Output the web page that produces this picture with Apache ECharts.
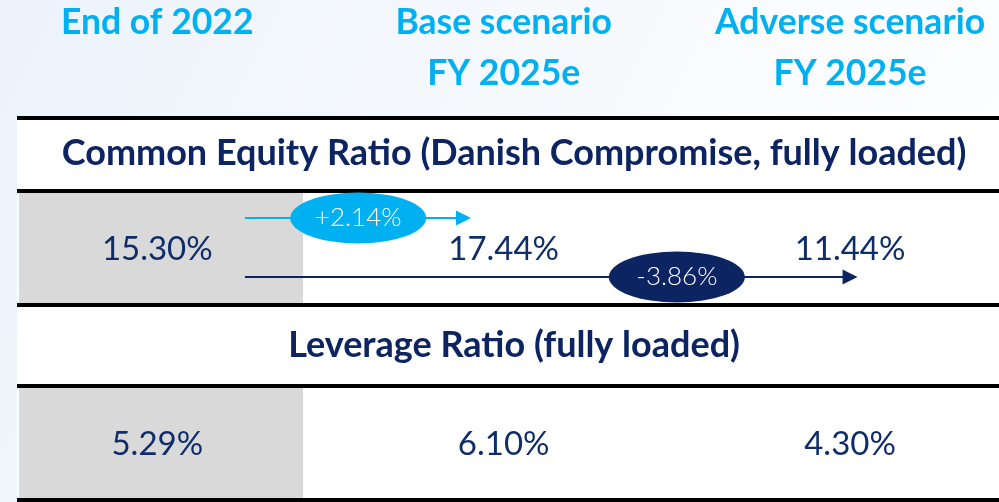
<!DOCTYPE html>
<html>
<head>
<meta charset="utf-8">
<title>Capital ratios</title>
<script src="https://cdn.jsdelivr.net/npm/echarts@6.0.0/dist/echarts.min.js"></script>
<style>
  html, body { margin: 0; padding: 0; }
  #chart { width: 999px; height: 502px; }
</style>
</head>
<body>
<div id="chart"></div>
<script>
// data
const columns = ['End of 2022', 'Base scenario\nFY 2025e', 'Adverse scenario\nFY 2025e']
const sections = ['Common Equity Ratio (Danish Compromise, fully loaded)', 'Leverage Ratio (fully loaded)']
const cetRatio = [15.30, 17.44, 11.44]
const leverageRatio = [5.29, 6.10, 4.30]
// change from end of 2022 to base / adverse
const cetChange = [2.14, -3.86]

// layout (x in column units, y axis runs 1:1 with pixels)
const X_MIN = -0.405
const X_MAX = 2.43
const rules = [118, 191, 305, 386, 500]
const headerY = 23
const headerLine = 51
const titleX = 1.03
const titleY = [153, 345]
const valueY = [249, 444]
const greyEdge = 0.421
const arrowStart = 0.253
const arrowEnd = [0.884, 2.0]
const arrowY = [218, 277]
const bubbleX = [0.58, 1.5]

const NAVY = '#0c2461'
const BLUE = '#00b0f0'

const chart = echarts.init(document.getElementById('chart'))

const pct = (v) => v.toFixed(2) + '%'

// invisible point, only there to carry a label
const hidden = { color: 'transparent', opacity: 1 }

const option = {
  backgroundColor: new echarts.graphic.LinearGradient(0, 0, 1, 1, [
    { offset: 0, color: '#ecf3fb' },
    { offset: 0.5, color: '#f7fafd' },
    { offset: 1, color: '#ffffff' }
  ]),
  animation: false,
  grid: { left: 17, right: 0, top: 0, bottom: 0 },
  xAxis: { type: 'value', min: X_MIN, max: X_MAX, show: false },
  yAxis: { type: 'value', min: 0, max: 502, inverse: true, show: false },
  series: [
    // table body, grey column and horizontal rules
    {
      type: 'scatter',
      silent: true,
      data: [],
      markArea: {
        silent: true,
        data: [
          [{ xAxis: X_MIN, yAxis: rules[0], itemStyle: { color: '#ffffff', opacity: 1 } }, { xAxis: X_MAX, yAxis: rules[4] }],
          [{ xAxis: -0.399, yAxis: rules[1] + 2, itemStyle: { color: '#d9d9d9', opacity: 1 } }, { xAxis: greyEdge, yAxis: rules[2] - 2 }],
          [{ xAxis: -0.399, yAxis: rules[3] + 2, itemStyle: { color: '#d9d9d9', opacity: 1 } }, { xAxis: greyEdge, yAxis: rules[4] - 2 }]
        ]
      },
      markLine: {
        silent: true,
        symbol: 'none',
        label: { show: false },
        lineStyle: { color: '#000', width: 4, type: 'solid', opacity: 1 },
        data: rules.map((r) => ({ yAxis: r }))
      }
    },
    // column headers
    {
      type: 'scatter',
      silent: true,
      symbolSize: 1,
      itemStyle: hidden,
      data: columns.map((c, i) => ({
        name: c,
        value: [i, headerY + (c.split('\n').length - 1) * headerLine / 2]
      })),
      label: {
        show: true,
        position: 'inside',
        formatter: '{b}',
        fontFamily: 'Lato',
        fontWeight: 'bold',
        fontSize: 35.5,
        lineHeight: headerLine,
        color: BLUE
      }
    },
    // section titles
    {
      type: 'scatter',
      silent: true,
      symbolSize: 1,
      itemStyle: hidden,
      data: sections.map((s, k) => ({ name: s, value: [titleX, titleY[k]] })),
      label: {
        show: true,
        position: 'inside',
        formatter: '{b}',
        fontFamily: 'Lato',
        fontWeight: 'bold',
        fontSize: 36,
        color: NAVY
      }
    },
    // ratio values
    {
      type: 'scatter',
      silent: true,
      symbolSize: 1,
      z: 4,
      itemStyle: hidden,
      data: cetRatio.map((v, i) => ({ name: pct(v), value: [i, valueY[0]] }))
        .concat(leverageRatio.map((v, i) => ({ name: pct(v), value: [i, valueY[1]] }))),
      label: {
        show: true,
        position: 'inside',
        formatter: '{b}',
        fontFamily: 'Lato',
        fontSize: 33,
        color: '#0f2d69'
      }
    },
    // change arrows
    {
      type: 'lines',
      coordinateSystem: 'cartesian2d',
      silent: true,
      z: 3,
      symbol: ['none', 'triangle'],
      symbolSize: 15,
      data: cetChange.map((d, k) => ({
        coords: [[arrowStart, arrowY[k]], [arrowEnd[k], arrowY[k]]],
        lineStyle: { color: d > 0 ? BLUE : NAVY, width: 2, opacity: 1 }
      }))
    },
    // change bubbles
    {
      type: 'scatter',
      silent: true,
      symbol: 'circle',
      symbolSize: [136, 51],
      z: 5,
      data: cetChange.map((d, k) => ({
        name: (d > 0 ? '+' : '') + pct(d),
        value: [bubbleX[k], arrowY[k]],
        itemStyle: { color: d > 0 ? BLUE : NAVY, opacity: 1 }
      })),
      label: {
        show: true,
        position: 'inside',
        formatter: '{b}',
        fontFamily: 'Lato',
        fontWeight: 300,
        fontSize: 26,
        color: '#ffffff'
      }
    }
  ]
}

chart.setOption(option)
</script>
</body>
</html>
